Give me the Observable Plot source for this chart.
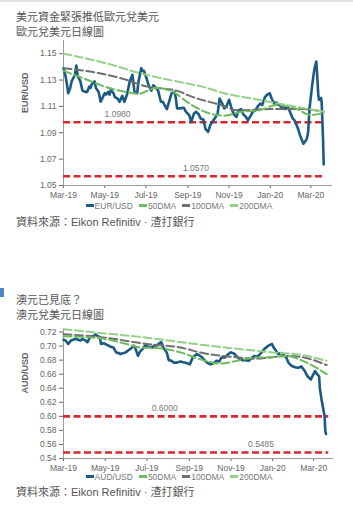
<!DOCTYPE html>
<html><head><meta charset="utf-8">
<script src="https://cdn.jsdelivr.net/npm/d3@7"></script>
<script src="https://cdn.jsdelivr.net/npm/@observablehq/plot@0.6"></script>
<style>
html,body{margin:0;padding:0;background:#fff;}
body{width:353px;height:508px;position:relative;overflow:hidden;border-top:2px solid #e4e4e4;box-sizing:border-box;font-family:"Liberation Sans",Arial,"Noto Sans CJK TC",sans-serif;}
.abs{position:absolute;left:0;}
.title{left:16px;font-size:11px;line-height:15px;color:#555;font-family:"Liberation Sans","Noto Sans CJK TC",sans-serif;white-space:nowrap;}
.src{left:16px;font-size:11px;line-height:14px;color:#555;font-family:"Liberation Sans","Noto Sans CJK TC",sans-serif;white-space:nowrap;}
.legend{width:353px;text-align:center;font-size:8.5px;line-height:10px;color:#777;white-space:nowrap;padding-left:5px;box-sizing:border-box;}
.legend span.sw{display:inline-block;width:8px;height:3px;vertical-align:middle;margin-right:1px;margin-left:6px;position:relative;top:-1px;}
</style></head>
<body>
<div class="abs title" style="top:8px">美元資金緊張推低歐元兌美元</div>
<div class="abs title" style="top:23px">歐元兌美元日線圖</div>
<div class="abs" id="c1" style="top:34px"></div>
<div class="abs legend" id="lg1" style="top:199px"></div>
<div class="abs src" style="top:213px">資料來源：Eikon Refinitiv · 渣打銀行</div>

<div class="abs" style="top:286px;width:4px;height:9px;background:#4a86c5"></div>
<div class="abs title" style="top:291px">澳元已見底？</div>
<div class="abs title" style="top:306px">澳元兌美元日線圖</div>
<div class="abs" id="c2" style="top:322px"></div>
<div class="abs legend" id="lg2" style="top:470px"></div>
<div class="abs src" style="top:483px">資料來源：Eikon Refinitiv · 渣打銀行</div>

<script>
// ---------- shared ----------
const xTickDates = ["2019-03-01","2019-05-01","2019-07-01","2019-09-01","2019-11-01","2020-01-01","2020-03-01"];
const xTickLabels = ["Mar-19","May-19","Jul-19","Sep-19","Nov-19","Jan-20","Mar-20"];
const seriesNamesEUR = ["EUR/USD","50DMA","100DMA","200DMA"];
const seriesNamesAUD = ["AUD/USD","50DMA","100DMA","200DMA"];
const seriesColors = ["#1b5a82","#6dbb5e","#6f6f6f","#94d087"];
const refColor = "#d7282f";

// ---------- EUR/USD ----------
const eurDates = ["2019-03-01","2019-03-04","2019-03-06","2019-03-08","2019-03-11","2019-03-13","2019-03-15","2019-03-18","2019-03-20","2019-03-22","2019-03-26","2019-03-29",
"2019-04-02","2019-04-05","2019-04-08","2019-04-10","2019-04-12","2019-04-16","2019-04-18","2019-04-22","2019-04-25","2019-04-29",
"2019-05-01","2019-05-03","2019-05-06","2019-05-08","2019-05-10","2019-05-14","2019-05-16","2019-05-20","2019-05-23","2019-05-27","2019-05-30",
"2019-06-03","2019-06-05","2019-06-07","2019-06-11","2019-06-14","2019-06-18","2019-06-20","2019-06-24","2019-06-26","2019-06-28",
"2019-07-02","2019-07-05","2019-07-09","2019-07-12","2019-07-16","2019-07-19","2019-07-23","2019-07-26","2019-07-30",
"2019-08-01","2019-08-05","2019-08-08","2019-08-12","2019-08-14","2019-08-16","2019-08-20","2019-08-26","2019-08-29",
"2019-09-03","2019-09-06","2019-09-10","2019-09-13","2019-09-17","2019-09-20","2019-09-24","2019-09-27",
"2019-10-01","2019-10-04","2019-10-08","2019-10-11","2019-10-15","2019-10-18","2019-10-22","2019-10-25","2019-10-29",
"2019-11-01","2019-11-05","2019-11-08","2019-11-12","2019-11-15","2019-11-19","2019-11-22","2019-11-26","2019-11-29",
"2019-12-03","2019-12-06","2019-12-10","2019-12-13","2019-12-17","2019-12-20","2019-12-24","2019-12-27","2019-12-31",
"2020-01-03","2020-01-07","2020-01-10","2020-01-14","2020-01-17","2020-01-21","2020-01-23","2020-01-27","2020-01-30",
"2020-02-03","2020-02-05","2020-02-07","2020-02-11","2020-02-14","2020-02-19","2020-02-21","2020-02-24","2020-02-26","2020-02-28",
"2020-03-03","2020-03-06","2020-03-09","2020-03-10","2020-03-12","2020-03-13","2020-03-16","2020-03-17","2020-03-19","2020-03-20"];
const eurValues = [1.139,1.133,1.127,1.120,1.124,1.129,1.131,1.134,1.141,1.133,1.129,1.122,
1.121,1.121,1.125,1.124,1.127,1.129,1.124,1.121,1.1135,1.118,
1.120,1.119,1.121,1.119,1.1225,1.120,1.117,1.116,1.1135,1.118,1.1135,
1.119,1.124,1.129,1.134,1.121,1.120,1.129,1.139,1.137,1.137,
1.131,1.126,1.122,1.126,1.124,1.122,1.1135,1.1135,1.1097,
1.108,1.115,1.120,1.121,1.117,1.1085,1.1085,1.109,1.106,
1.1033,1.0982,1.1045,1.1059,1.104,1.1007,1.100,1.093,
1.0906,1.0957,1.099,1.101,1.1045,1.116,1.112,1.1085,1.111,
1.115,1.108,1.104,1.102,1.107,1.108,1.104,1.102,1.0995,
1.103,1.1059,1.107,1.1097,1.1122,1.111,1.117,1.1187,1.120,
1.116,1.112,1.113,1.111,1.1097,1.109,1.108,1.110,1.106,
1.101,1.100,1.0982,1.093,1.088,1.0816,1.083,1.0854,1.0906,1.1085,
1.1263,1.1377,1.1441,1.1365,1.1187,1.115,1.1165,1.113,1.085,1.066];
const eur50Dates = ["2019-03-01","2019-04-01","2019-05-01","2019-06-01","2019-06-20","2019-07-15","2019-08-10","2019-09-01","2019-10-01","2019-10-25","2019-11-20","2019-12-15","2020-01-10","2020-02-05","2020-03-01","2020-03-20"];
const eur50Values = [1.137,1.131,1.125,1.121,1.1195,1.124,1.121,1.113,1.105,1.103,1.106,1.107,1.111,1.109,1.1035,1.105];
const eur100Dates = ["2019-03-01","2019-04-25","2019-06-03","2019-06-23","2019-08-21","2019-08-31","2019-10-20","2019-11-13","2020-01-01","2020-02-15","2020-03-20"];
const eur100Values = [1.139,1.135,1.130,1.1263,1.121,1.1187,1.111,1.107,1.108,1.108,1.106];
const eur200Dates = ["2019-03-01","2019-05-01","2019-07-01","2019-08-25","2019-09-22","2019-10-25","2019-12-15","2020-02-08","2020-03-20"];
const eur200Values = [1.150,1.143,1.134,1.128,1.125,1.120,1.115,1.1097,1.106];
const eurRefValues = [1.0980, 1.0570];
const eurRefLabels = ["1.0980","1.0570"];
const eurRefLabelDates = ["2019-05-20","2019-09-13"];
const eurYTicks = [1.05,1.07,1.09,1.11,1.13,1.15];

// ---------- AUD/USD ----------
const audDates = ["2019-03-01","2019-03-04","2019-03-08","2019-03-12","2019-03-15","2019-03-19","2019-03-22","2019-03-26","2019-03-29",
"2019-04-02","2019-04-05","2019-04-09","2019-04-12","2019-04-15","2019-04-17","2019-04-19","2019-04-23","2019-04-25","2019-04-29",
"2019-05-01","2019-05-06","2019-05-09","2019-05-13","2019-05-17","2019-05-21","2019-05-23","2019-05-28","2019-05-31",
"2019-06-04","2019-06-07","2019-06-12","2019-06-14","2019-06-18","2019-06-21","2019-06-25","2019-06-28",
"2019-07-03","2019-07-09","2019-07-12","2019-07-16","2019-07-18","2019-07-22","2019-07-25","2019-07-30",
"2019-08-02","2019-08-06","2019-08-09","2019-08-14","2019-08-19","2019-08-23","2019-08-28",
"2019-09-02","2019-09-06","2019-09-12","2019-09-17","2019-09-20","2019-09-24","2019-09-27",
"2019-10-02","2019-10-07","2019-10-11","2019-10-15","2019-10-18","2019-10-23","2019-10-28",
"2019-11-01","2019-11-06","2019-11-11","2019-11-14","2019-11-18","2019-11-22","2019-11-27",
"2019-12-02","2019-12-05","2019-12-10","2019-12-16","2019-12-20","2019-12-26","2019-12-31",
"2020-01-03","2020-01-06","2020-01-09","2020-01-14","2020-01-17","2020-01-21","2020-01-24","2020-01-29",
"2020-02-03","2020-02-07","2020-02-12","2020-02-17","2020-02-21","2020-02-26","2020-02-28",
"2020-03-03","2020-03-06","2020-03-09","2020-03-10","2020-03-13","2020-03-16","2020-03-17","2020-03-18","2020-03-19"];
const audValues = [0.709,0.708,0.703,0.708,0.709,0.7105,0.709,0.708,0.710,
0.708,0.7055,0.7128,0.714,0.715,0.7166,0.715,0.7128,0.703,0.704,
0.703,0.7007,0.699,0.698,0.691,0.690,0.6886,0.690,0.691,
0.694,0.696,0.7007,0.697,0.6862,0.692,0.696,0.7007,
0.699,0.698,0.7007,0.701,0.703,0.7055,0.698,0.691,
0.680,0.679,0.6765,0.6765,0.678,0.677,0.676,
0.674,0.6837,0.6886,0.686,0.6837,0.679,0.6765,
0.674,0.676,0.679,0.678,0.6837,0.6837,0.6886,
0.691,0.689,0.6837,0.681,0.680,0.680,0.679,
0.6837,0.686,0.685,0.691,0.696,0.7007,0.703,
0.697,0.6934,0.6886,0.690,0.688,0.6837,0.6765,0.6717,
0.670,0.669,0.671,0.6644,0.657,0.6524,0.657,
0.6644,0.660,0.657,0.640,0.621,0.605,0.600,0.580,0.575];
const aud50Dates = ["2019-03-01","2019-04-24","2019-06-01","2019-06-21","2019-07-20","2019-08-19","2019-09-21","2019-10-15","2019-11-10","2019-12-04","2019-12-28","2020-01-21","2020-02-14","2020-03-20"];
const aud50Values = [0.714,0.711,0.703,0.698,0.697,0.691,0.680,0.675,0.679,0.6837,0.684,0.686,0.679,0.660];
const aud100Dates = ["2019-03-01","2019-05-01","2019-07-01","2019-08-19","2019-09-21","2019-11-10","2019-12-04","2019-12-28","2020-01-21","2020-02-14","2020-03-20"];
const aud100Values = [0.717,0.712,0.703,0.698,0.690,0.684,0.682,0.6837,0.686,0.684,0.673];
const aud200Dates = ["2019-03-01","2019-05-01","2019-07-01","2019-09-01","2019-11-01","2020-01-01","2020-02-15","2020-03-20"];
const aud200Values = [0.724,0.718,0.712,0.704,0.697,0.691,0.687,0.679];
const audRefValues = [0.6000, 0.5485];
const audRefLabels = ["0.6000","0.5485"];
const audRefLabelDates = ["2019-07-27","2019-12-15"];
const audYTicks = [0.54,0.56,0.58,0.60,0.62,0.64,0.66,0.68,0.70,0.72];

const refStart = "2019-03-01", refEnd = "2020-03-23";

// ---------- helpers ----------
const P = s => new Date(s + "T00:00:00Z");
const zip = (ds, vs) => ds.map((d, i) => ({date: P(d), value: vs[i]}));
const tickTimes = xTickDates.map(P);
const fmtX = d => { const i = tickTimes.findIndex(t => +t === +d); return i >= 0 ? xTickLabels[i] : ""; };

function makeChart({main, s50, s100, s200, refs, refLabels, refLabelDates, yDomain, yTicks, yLabel, xEnd, height, marginBottom, marginRight}) {
  const refData = refs.map((v, i) => ({value: v, label: refLabels[i], date: P(refLabelDates[i])}));
  const dash = {strokeWidth: 2, strokeDasharray: "8,3.5", curve: "monotone-x"};
  return Plot.plot({
    width: 353, height, marginLeft: 63, marginRight, marginTop: 4, marginBottom,
    style: {fontFamily: '"Liberation Sans", Arial, sans-serif', fontSize: "8.5px", color: "#666", background: "transparent", overflow: "visible"},
    x: {type: "utc", domain: [P("2019-03-01"), P(xEnd)], ticks: tickTimes, tickFormat: fmtX, tickSize: 3, tickPadding: 3, label: null},
    y: {domain: yDomain, ticks: yTicks, tickFormat: d => d.toFixed(2), tickSize: 4, tickPadding: 3, label: null},
    marks: [
      Plot.ruleY([yDomain[0]], {stroke: "#9a9a9a", strokeWidth: 1}),
      Plot.ruleX([P("2019-03-01")], {stroke: "#9a9a9a", strokeWidth: 1}),
      Plot.ruleY(refData, {y: "value", x1: P(refStart), x2: P(refEnd), stroke: refColor, strokeWidth: 2.6, strokeDasharray: "7,3.5"}),
      Plot.text(refData, {x: "date", y: "value", text: "label", dy: -8, fontSize: 8.5, fill: "#777"}),
      Plot.line(zip(main.d, main.v), {x: "date", y: "value", stroke: seriesColors[0], strokeWidth: 2.6, curve: "linear"}),
      Plot.line(zip(s100.d, s100.v), {x: "date", y: "value", stroke: seriesColors[2], ...dash}),
      Plot.line(zip(s50.d, s50.v), {x: "date", y: "value", stroke: seriesColors[1], ...dash}),
      Plot.line(zip(s200.d, s200.v), {x: "date", y: "value", stroke: seriesColors[3], ...dash}),
      Plot.text([yLabel], {frameAnchor: "left", dx: -38, rotate: -90, fontWeight: "bold", fontSize: 9, fill: "#666"})
    ]
  });
}

function legend(el, names) {
  el.innerHTML = names.map((n, i) => `<span class="sw" style="background:${seriesColors[i]};${i===0?'margin-left:0':''}"></span>${n}`).join("");
}

document.getElementById("c1").appendChild(makeChart({
  main: {d: eurDates, v: eurValues}, s50: {d: eur50Dates, v: eur50Values}, s100: {d: eur100Dates, v: eur100Values}, s200: {d: eur200Dates, v: eur200Values},
  refs: eurRefValues, refLabels: eurRefLabels, refLabelDates: eurRefLabelDates,
  yDomain: [1.05, 1.16], yTicks: eurYTicks, yLabel: "EUR/USD", xEnd: "2020-04-02", height: 167, marginBottom: 18, marginRight: 21
}));
document.getElementById("c2").appendChild(makeChart({
  main: {d: audDates, v: audValues}, s50: {d: aud50Dates, v: aud50Values}, s100: {d: aud100Dates, v: aud100Values}, s200: {d: aud200Dates, v: aud200Values},
  refs: audRefValues, refLabels: audRefLabels, refLabelDates: audRefLabelDates,
  yDomain: [0.54, 0.725], yTicks: audYTicks, yLabel: "AUD/USD", xEnd: "2020-03-30", height: 152, marginBottom: 18, marginRight: 20
}));
legend(document.getElementById("lg1"), seriesNamesEUR);
legend(document.getElementById("lg2"), seriesNamesAUD);
</script>
</body></html>
